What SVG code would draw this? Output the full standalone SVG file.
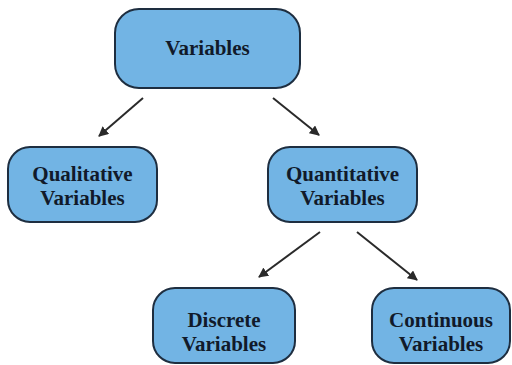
<svg xmlns="http://www.w3.org/2000/svg" width="512" height="365" viewBox="0 0 512 365">
<defs>
<style>
.box{fill:#72b4e4;stroke:#1e2e40;stroke-width:2}
.lbl{font-family:"Liberation Serif","Times New Roman",serif;font-weight:bold;font-size:21px;fill:#111a2a;text-anchor:middle}
.conn{stroke:#2a2a2a;stroke-width:2;fill:none;marker-end:url(#ah)}
</style>
<marker id="ah" viewBox="0 0 10 10" refX="9" refY="5" markerWidth="5" markerHeight="5" orient="auto" markerUnits="strokeWidth">
<path d="M0,0 L10,5 L0,10 z" fill="#2a2a2a"/>
</marker>
</defs>
<rect width="512" height="365" fill="#ffffff"/>
<g id="connectors">
<line class="conn" x1="143" y1="98" x2="99" y2="136"/>
<line class="conn" x1="273" y1="98" x2="319" y2="135"/>
<line class="conn" x1="320" y1="232" x2="259" y2="277"/>
<line class="conn" x1="357" y1="232" x2="417" y2="280"/>
</g>
<g id="variables">
<rect class="box" x="115" y="9" width="185" height="79" rx="24"/>
<text class="lbl" x="207.5" y="55">Variables</text>
</g>
<g id="qualitative">
<rect class="box" x="8" y="147" width="149" height="75" rx="22"/>
<text class="lbl" x="82.5" y="181">Qualitative</text>
<text class="lbl" x="82.5" y="205">Variables</text>
</g>
<g id="quantitative">
<rect class="box" x="268" y="147" width="149" height="75" rx="22"/>
<text class="lbl" x="342.5" y="181">Quantitative</text>
<text class="lbl" x="342.5" y="205">Variables</text>
</g>
<g id="discrete">
<rect class="box" x="153" y="288" width="142" height="75" rx="22"/>
<text class="lbl" x="224" y="327">Discrete</text>
<text class="lbl" x="224" y="351">Variables</text>
</g>
<g id="continuous">
<rect class="box" x="372" y="288" width="138" height="75" rx="22"/>
<text class="lbl" x="441" y="327">Continuous</text>
<text class="lbl" x="441" y="351">Variables</text>
</g>
</svg>
